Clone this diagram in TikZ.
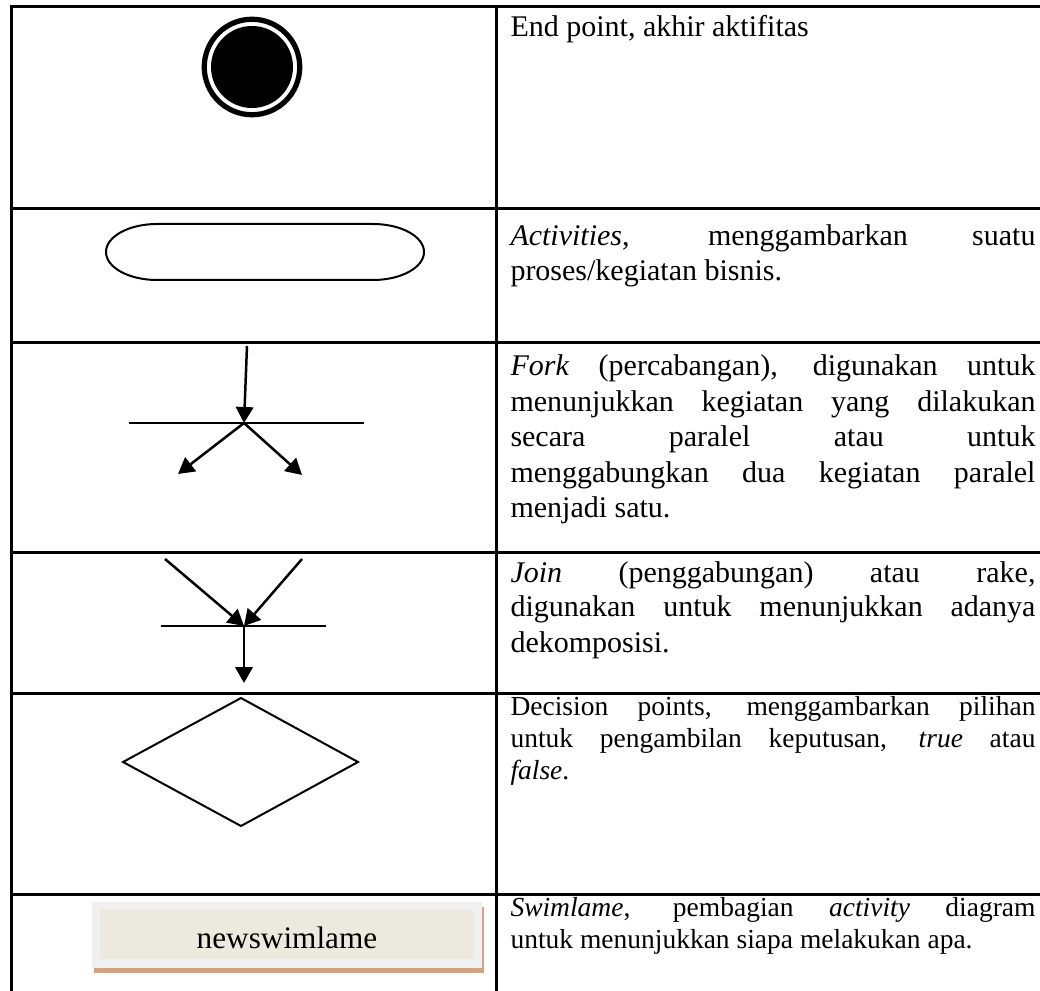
\documentclass[tikz,border=0pt]{standalone}
\usepackage{fontspec}
\setmainfont{Liberation Serif}
\usetikzlibrary{arrows.meta}

\definecolor{lanebeige}{RGB}{236,234,223}
\definecolor{lanegray}{RGB}{240,240,240}
\definecolor{laneshadow}{RGB}{210,163,130}

% one justified line of the description column
\newcommand\fullline[1]{\makebox[210pt][s]{#1}}

\begin{document}
\begin{tikzpicture}[x=0.4pt,y=-0.4pt,
  rule/.style={line width=1.2pt},
  outline/.style={line width=0.8pt},
  flow/.style={line width=1pt,-{Triangle[length=6.4pt,width=7pt]}},
  desc/.style={anchor=base west,inner sep=0pt,font=\fontsize{12}{14}\selectfont},
  descsmall/.style={anchor=base west,inner sep=0pt,font=\fontsize{11}{13}\selectfont},
]
\useasboundingbox (0,0) rectangle (1040,991);

% ---------- table grid ----------
\draw[rule] (11,991) -- (11,7) -- (1040,7);
\draw[rule] (496,7) -- (496,991);
\foreach \yy in {209,343,553,693,894}
  \draw[rule] (11,\yy) -- (1040,\yy);

% ---------- row 1: end point ----------
\coordinate (endc) at (252,67);
\fill (endc) circle[radius=16.4pt];
\draw[line width=2.1pt] (endc) circle[radius=19.1pt];
\node[desc] (t1) at (510,37) {End point, akhir aktifitas};

% ---------- row 2: activity ----------
\draw[outline] (157,224) -- (373,224)
  arc[start angle=90,end angle=-90,x radius=20.4pt,y radius=11.2pt]
  -- (157,280)
  arc[start angle=270,end angle=90,x radius=20.4pt,y radius=11.2pt] -- cycle;
\node[desc] (t2a) at (510,246) {\fullline{\textit{Activities}, menggambarkan suatu}};
\node[desc] (t2b) at (510,281) {proses/kegiatan bisnis.};

% ---------- row 3: fork ----------
\coordinate (forkTop) at (247,346);
\coordinate (forkHub) at (244,423);
\coordinate (forkL) at (178,474);
\coordinate (forkR) at (302,475);
\draw[outline] (129,423) -- (364,423);
\draw[flow] (forkTop) -- (forkHub);
\draw[flow] (forkHub) -- (forkL);
\draw[flow] (forkHub) -- (forkR);
\node[desc] (t3a) at (510,376) {\fullline{\textit{Fork} (percabangan), digunakan untuk}};
\node[desc] (t3b) at (510,411.5) {\fullline{menunjukkan kegiatan yang dilakukan}};
\node[desc] (t3c) at (510,447) {\fullline{secara paralel atau untuk}};
\node[desc] (t3d) at (510,482.5) {\fullline{menggabungkan dua kegiatan paralel}};
\node[desc] (t3e) at (510,518) {menjadi satu.};

% ---------- row 4: join ----------
\coordinate (joinL) at (165,559);
\coordinate (joinR) at (302,559);
\coordinate (joinHub) at (244,626);
\coordinate (joinOut) at (244,683);
\draw[outline] (161,626) -- (326,626);
\draw[flow] (joinL) -- (joinHub);
\draw[flow] (joinR) -- (joinHub);
\draw[flow] (joinHub) -- (joinOut);
\node[desc] (t4a) at (510,582) {\fullline{\textit{Join} (penggabungan) atau rake,}};
\node[desc] (t4b) at (510,617) {\fullline{digunakan untuk menunjukkan adanya}};
\node[desc] (t4c) at (510,652) {dekomposisi.};

% ---------- row 5: decision ----------
\draw[outline] (241,698) -- (358,762) -- (241,826) -- (123,762) -- cycle;
\node[descsmall] (t5a) at (510,715) {\fullline{Decision points, menggambarkan pilihan}};
\node[descsmall] (t5b) at (510,747) {\fullline{untuk pengambilan keputusan, \textit{true} atau}};
\node[descsmall] (t5c) at (510,779) {\textit{false}.};

% ---------- row 6: swimlane ----------
\fill[laneshadow] (94,907) rectangle (484,973);
\fill[lanegray] (92,902) rectangle (482,968);
\fill[lanebeige] (100,910) rectangle (474,959);
\node[anchor=base,inner sep=0pt,font=\fontsize{12.5}{15}\selectfont] (lane) at (287,948) {newswimlame};
\node[descsmall] (t6a) at (510,916) {\fullline{\textit{Swimlame}, pembagian \textit{activity} diagram}};
\node[descsmall] (t6b) at (510,948) {untuk menunjukkan siapa melakukan apa.};
\end{tikzpicture}
\end{document}
